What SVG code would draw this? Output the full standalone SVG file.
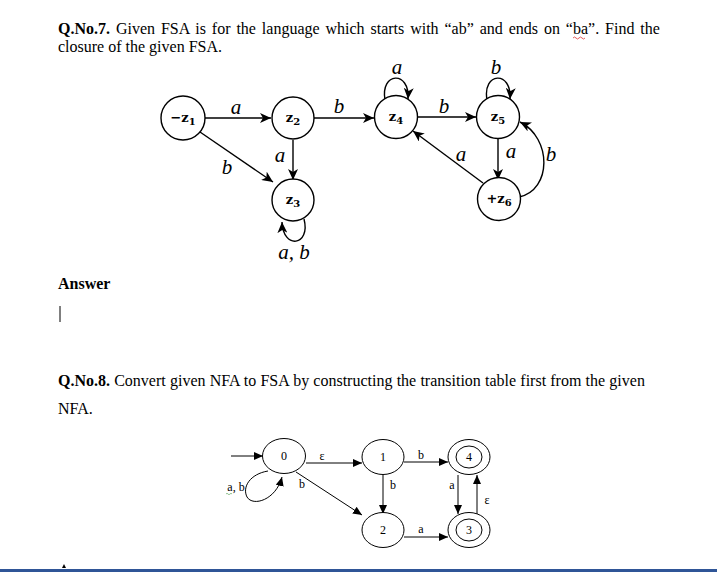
<svg xmlns="http://www.w3.org/2000/svg" width="717" height="572" viewBox="0 0 717 572">
<defs>
<marker id="ah" markerUnits="userSpaceOnUse" markerWidth="12" markerHeight="10" refX="11" refY="5" orient="auto">
<path d="M0,0 L11,5 L0,10 L3,5 Z" fill="#000"/>
</marker>
<marker id="ah2" markerUnits="userSpaceOnUse" markerWidth="9" markerHeight="8" refX="9" refY="4" orient="auto">
<path d="M0,0 L9,4 L0,8 Z" fill="#000"/>
</marker>
</defs>
<style>
.t{font-family:"Liberation Serif","Times New Roman",serif;font-size:16px;fill:#000}
.b{font-weight:bold}
.st{fill:#fff;stroke:#000;stroke-width:1.4}
.zl{font-family:"DejaVu Serif","Liberation Serif",serif;font-weight:bold;font-size:13px;text-anchor:middle}
.zs{font-size:10px}
.el{font-family:"Liberation Serif","DejaVu Serif",serif;font-style:italic;font-size:21px;text-anchor:middle}
.e{fill:none;stroke:#000;stroke-width:1.4;marker-end:url(#ah)}
.n{fill:#fff;stroke:#000;stroke-width:1}
.nl{font-family:"Liberation Serif","Times New Roman",serif;font-size:12px;text-anchor:middle}
.ne{fill:none;stroke:#000;stroke-width:1;marker-end:url(#ah2)}
</style>
<rect width="717" height="572" fill="#fff"/>
<text class="t" x="58" y="34" word-spacing="1.9"><tspan class="b">Q.No.7.</tspan> Given FSA is for the language which starts with “ab” and ends on “ba”. Find the</text>
<text class="t" x="58" y="52">closure of the given FSA.</text>
<path d="M573,38 q1.5,-2 3,0 t3,0 t3,0 t3,0" fill="none" stroke="#d33" stroke-width="0.8"/>
<text class="t b" x="58" y="289">Answer</text>
<line x1="60" y1="306" x2="60" y2="322" stroke="#000" stroke-width="1"/>
<text class="t" x="58" y="386" word-spacing="0.2"><tspan class="b">Q.No.8.</tspan> Convert given NFA to FSA by constructing the transition table first from the given</text>
<text class="t" x="58" y="414">NFA.</text>

<g id="edges-fsa">
<line class="e" x1="205" y1="118" x2="271" y2="118"/>
<line class="e" x1="314" y1="118" x2="374" y2="118"/>
<line class="e" x1="418" y1="117" x2="476" y2="117"/>
<line class="e" x1="200" y1="132" x2="273" y2="182"/>
<line class="e" x1="293" y1="140" x2="293" y2="180"/>
<path class="e" d="M304,219 C311,246 283,250 282,222"/>
<path class="e" d="M385,100 C380,72 410,70 408,99"/>
<path class="e" d="M487,100 C482,72 512,70 510,99"/>
<line class="e" x1="498" y1="139" x2="498" y2="180"/>
<line class="e" x1="483" y1="183" x2="413" y2="131"/>
<path class="e" d="M519,197 C552,190 552,138 520,122"/>
<text class="el" x="236" y="114">a</text>
<text class="el" x="339" y="113">b</text>
<text class="el" x="444" y="113">b</text>
<text class="el" x="227" y="174">b</text>
<text class="el" x="280" y="162">a</text>
<text class="el" x="294" y="259">a, b</text>
<text class="el" x="397" y="74">a</text>
<text class="el" x="496" y="74">b</text>
<text class="el" x="511" y="158">a</text>
<text class="el" x="461" y="161">a</text>
<text class="el" x="551" y="161">b</text>
</g>
<g id="z1"><circle class="st" cx="183" cy="118" r="22"/><text class="zl" x="183" y="122">−z<tspan class="zs" dy="3">1</tspan></text></g>
<g id="z2"><circle class="st" cx="293" cy="118" r="21"/><text class="zl" x="293" y="122">z<tspan class="zs" dy="3">2</tspan></text></g>
<g id="z3"><circle class="st" cx="293" cy="200" r="21"/><text class="zl" x="293" y="204">z<tspan class="zs" dy="3">3</tspan></text></g>
<g id="z4"><circle class="st" cx="396" cy="117" r="21.5"/><text class="zl" x="396" y="121">z<tspan class="zs" dy="3">4</tspan></text></g>
<g id="z5"><circle class="st" cx="498" cy="117" r="21.5"/><text class="zl" x="498" y="121">z<tspan class="zs" dy="3">5</tspan></text></g>
<g id="z6"><circle class="st" cx="499" cy="199" r="21.5"/><text class="zl" x="499" y="203">+z<tspan class="zs" dy="3">6</tspan></text></g>

<g id="edges-nfa">
<line class="ne" x1="231" y1="456" x2="263" y2="456"/>
<line class="ne" x1="306" y1="463" x2="362" y2="463"/>
<path class="ne" d="M268,471 C250,474 242,487 247,497 C253,507 276,500 282,477"/>
<line class="ne" x1="296" y1="472" x2="362" y2="515"/>
<line class="ne" x1="404" y1="462" x2="448" y2="462"/>
<line class="ne" x1="383" y1="475" x2="383" y2="514"/>
<line class="ne" x1="404" y1="537" x2="448" y2="537"/>
<line class="ne" x1="458" y1="475" x2="458" y2="514"/>
<line class="ne" x1="477" y1="514" x2="477" y2="475"/>
<text class="nl" x="322" y="460">ε</text>
<text class="nl" x="236" y="491">a, b</text>
<path d="M226,494 q1,-1.5 2,0 t2,0 t2,0" fill="none" stroke="#6a6" stroke-width="0.7"/>
<text class="nl" x="302" y="488">b</text>
<text class="nl" x="421" y="459">b</text>
<text class="nl" x="393" y="489">b</text>
<text class="nl" x="421" y="533">a</text>
<text class="nl" x="452" y="489">a</text>
<text class="nl" x="487" y="504">ε</text>
</g>
<g id="s0"><ellipse class="n" cx="284" cy="456" rx="21.5" ry="17.5"/><text class="nl" x="284" y="460">0</text></g>
<g id="s1"><ellipse class="n" cx="383" cy="457" rx="21" ry="17.5"/><text class="nl" x="383" y="461">1</text></g>
<g id="s4"><ellipse class="n" cx="469" cy="457" rx="21" ry="17.5"/><ellipse class="n" cx="469" cy="457" rx="13" ry="11"/><text class="nl" x="469" y="461">4</text></g>
<g id="s2"><ellipse class="n" cx="383" cy="530" rx="21" ry="17.5"/><text class="nl" x="383" y="534">2</text></g>
<g id="s3"><ellipse class="n" cx="469" cy="530" rx="21" ry="17.5"/><ellipse class="n" cx="469" cy="530" rx="13" ry="11"/><text class="nl" x="469" y="534">3</text></g>

<polygon points="62,568 64,564 66,568" fill="#000"/>
<rect x="0" y="569" width="717" height="3" fill="#2f5597"/>
</svg>
